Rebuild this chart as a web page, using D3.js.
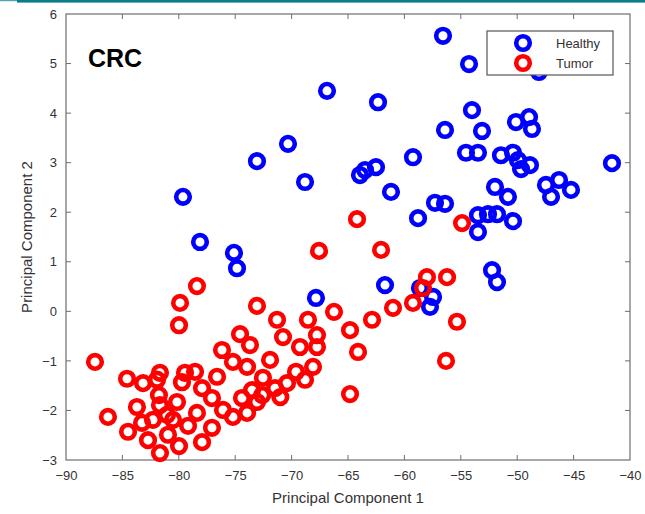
<!DOCTYPE html>
<html>
<head>
<meta charset="utf-8">
<script src="https://cdn.jsdelivr.net/npm/d3@7"></script>
<style>
  html, body { margin: 0; padding: 0; background: #fff; }
  svg { display: block; }
  text { font-family: "Liberation Sans", Arial, Helvetica, sans-serif; }
</style>
</head>
<body>
<svg id="chart" width="645" height="514"></svg>
<script>
// ---- data ----
const xTicks = [-90, -85, -80, -75, -70, -65, -60, -55, -50, -45, -40];
const yTicks = [-3, -2, -1, 0, 1, 2, 3, 4, 5, 6];
const seriesNames = ["Healthy", "Tumor"];
const healthyX = [-56.58, -54.27, -48.07, -66.86, -62.34, -54.01, -56.40, -53.12, -50.11, -48.95, -48.69, -70.32, -73.07, -59.24, -54.54, -53.48, -51.44, -50.37, -49.93, -49.66, -48.87, -41.60, -62.52, -63.49, -63.94, -68.81, -61.19, -51.97, -50.82, -47.45, -46.29, -47.00, -45.23, -79.63, -57.29, -56.40, -58.79, -53.48, -52.59, -51.79, -50.37, -53.48, -78.12, -75.11, -74.84, -67.84, -61.72, -52.23, -51.79, -58.62, -57.46, -57.73];
const healthyY = [5.56, 4.99, 4.83, 4.45, 4.22, 4.06, 3.66, 3.64, 3.82, 3.92, 3.68, 3.38, 3.03, 3.11, 3.20, 3.20, 3.15, 3.20, 3.05, 2.87, 2.95, 2.99, 2.91, 2.85, 2.75, 2.61, 2.41, 2.51, 2.31, 2.55, 2.65, 2.31, 2.45, 2.31, 2.19, 2.17, 1.88, 1.94, 1.96, 1.96, 1.82, 1.60, 1.40, 1.18, 0.87, 0.27, 0.53, 0.83, 0.59, 0.47, 0.29, 0.09];
const tumorX = [-64.20, -54.89, -67.57, -62.07, -58.00, -56.22, -58.35, -59.24, -61.01, -62.87, -55.34, -66.24, -64.82, -64.11, -56.31, -64.82, -78.39, -79.89, -79.98, -73.07, -71.29, -68.55, -74.57, -70.76, -67.75, -76.17, -73.69, -69.26, -67.75, -87.43, -86.28, -84.59, -83.17, -81.93, -81.67, -79.45, -78.56, -79.72, -76.61, -75.20, -73.95, -81.76, -80.16, -77.94, -77.06, -83.71, -84.50, -82.73, -81.67, -80.96, -79.98, -79.18, -77.94, -77.06, -78.39, -76.08, -75.20, -73.95, -73.51, -74.40, -82.29, -83.26, -81.05, -80.51, -81.67, -73.07, -72.54, -71.47, -70.41, -69.61, -68.81, -68.10, -71.91, -72.60, -71.00];
const tumorY = [1.86, 1.78, 1.22, 1.24, 0.69, 0.69, 0.47, 0.17, 0.07, -0.17, -0.21, -0.01, -0.38, -0.82, -1.00, -1.67, 0.51, 0.17, -0.28, 0.11, -0.17, -0.17, -0.46, -0.52, -0.48, -0.78, -0.68, -0.72, -0.72, -1.02, -2.13, -1.36, -1.45, -1.38, -1.24, -1.24, -1.22, -1.43, -1.32, -1.02, -1.12, -1.69, -1.83, -1.55, -1.75, -1.93, -2.43, -2.60, -2.86, -2.49, -2.72, -2.31, -2.64, -2.35, -2.05, -1.99, -2.13, -2.05, -1.59, -1.75, -2.19, -2.25, -2.09, -2.19, -1.89, -1.83, -1.34, -1.55, -1.45, -1.22, -1.38, -1.12, -0.98, -1.69, -1.73];
const seriesColors = ["#0000ff", "#ff0000"];

// ---- layout ----
const svg = d3.select("#chart");
const L = 66, R = 630, T = 14, B = 460;
const x = d3.scaleLinear().domain([-90, -40]).range([L, R]);
const y = d3.scaleLinear().domain([-3, 6]).range([B, T]);
const axisColor = "#6e6e6e";
const labelColor = "#333";

// top teal rule
svg.append("rect").attr("x", 0).attr("y", 0).attr("width", 17).attr("height", 1.2).attr("fill", "#4fa3ad");
svg.append("rect").attr("x", 17).attr("y", 0).attr("width", 628).attr("height", 2.6).attr("fill", "#0a7d8b");

// axes box
svg.append("rect").attr("x", L).attr("y", T).attr("width", R - L).attr("height", B - T)
  .attr("fill", "none").attr("stroke", axisColor).attr("stroke-width", 1.2);

const tl = 5;
const bottomAxis = d3.axisBottom(x).tickValues(xTicks).tickSize(0).tickPadding(11).tickFormat(d3.format("d"));
const gx = svg.append("g").attr("transform", `translate(0,${B})`).call(bottomAxis);
gx.select(".domain").remove();
gx.selectAll("text").attr("fill", labelColor).style("font-size", "13px");

const leftAxis = d3.axisLeft(y).tickValues(yTicks).tickSize(0).tickPadding(9).tickFormat(d3.format("d"));
const gy = svg.append("g").attr("transform", `translate(${L},0)`).call(leftAxis);
gy.select(".domain").remove();
gy.selectAll("text").attr("fill", labelColor).style("font-size", "13px");

// inward ticks on all four sides
const tg = svg.append("g").attr("stroke", axisColor).attr("stroke-width", 1);
xTicks.slice(1, -1).forEach(v => {
  tg.append("line").attr("x1", x(v)).attr("x2", x(v)).attr("y1", B).attr("y2", B - tl);
  tg.append("line").attr("x1", x(v)).attr("x2", x(v)).attr("y1", T).attr("y2", T + tl);
});
yTicks.slice(1, -1).forEach(v => {
  tg.append("line").attr("x1", L).attr("x2", L + tl).attr("y1", y(v)).attr("y2", y(v));
  tg.append("line").attr("x1", R).attr("x2", R - tl).attr("y1", y(v)).attr("y2", y(v));
});

// axis titles
svg.append("text").attr("x", (L + R) / 2).attr("y", 503).attr("text-anchor", "middle")
  .attr("fill", labelColor).style("font-size", "15px").text("Principal Component 1");
svg.append("text").attr("transform", `translate(32,${(T + B) / 2}) rotate(-90)`).attr("text-anchor", "middle")
  .attr("fill", labelColor).style("font-size", "15px").text("Principal Component 2");

// markers
const mr = 6.8, msw = 4.6;
const healthy = healthyX.map((v, i) => ({ x: v, y: healthyY[i] }));
const tumor = tumorX.map((v, i) => ({ x: v, y: tumorY[i] }));
[healthy, tumor].forEach((data, si) => {
  svg.append("g").selectAll("circle").data(data).join("circle")
    .attr("cx", d => x(d.x)).attr("cy", d => y(d.y)).attr("r", mr)
    .attr("fill", "none").attr("stroke", seriesColors[si]).attr("stroke-width", msw);
});

// CRC label
svg.append("text").attr("x", 88).attr("y", 67).attr("fill", "#000")
  .style("font-size", "25px").style("font-weight", "bold").text("CRC");

// legend
const lg = svg.append("g");
lg.append("rect").attr("x", 487).attr("y", 31).attr("width", 126).attr("height", 44)
  .attr("fill", "#fff").attr("stroke", "#555").attr("stroke-width", 1.2);
seriesNames.forEach((name, i) => {
  const cy = 43 + i * 20;
  lg.append("circle").attr("cx", 523).attr("cy", cy).attr("r", mr)
    .attr("fill", "none").attr("stroke", seriesColors[i]).attr("stroke-width", msw);
  lg.append("text").attr("x", 556).attr("y", cy + 5).attr("fill", labelColor)
    .style("font-size", "13px").text(name);
});
</script>
</body>
</html>
